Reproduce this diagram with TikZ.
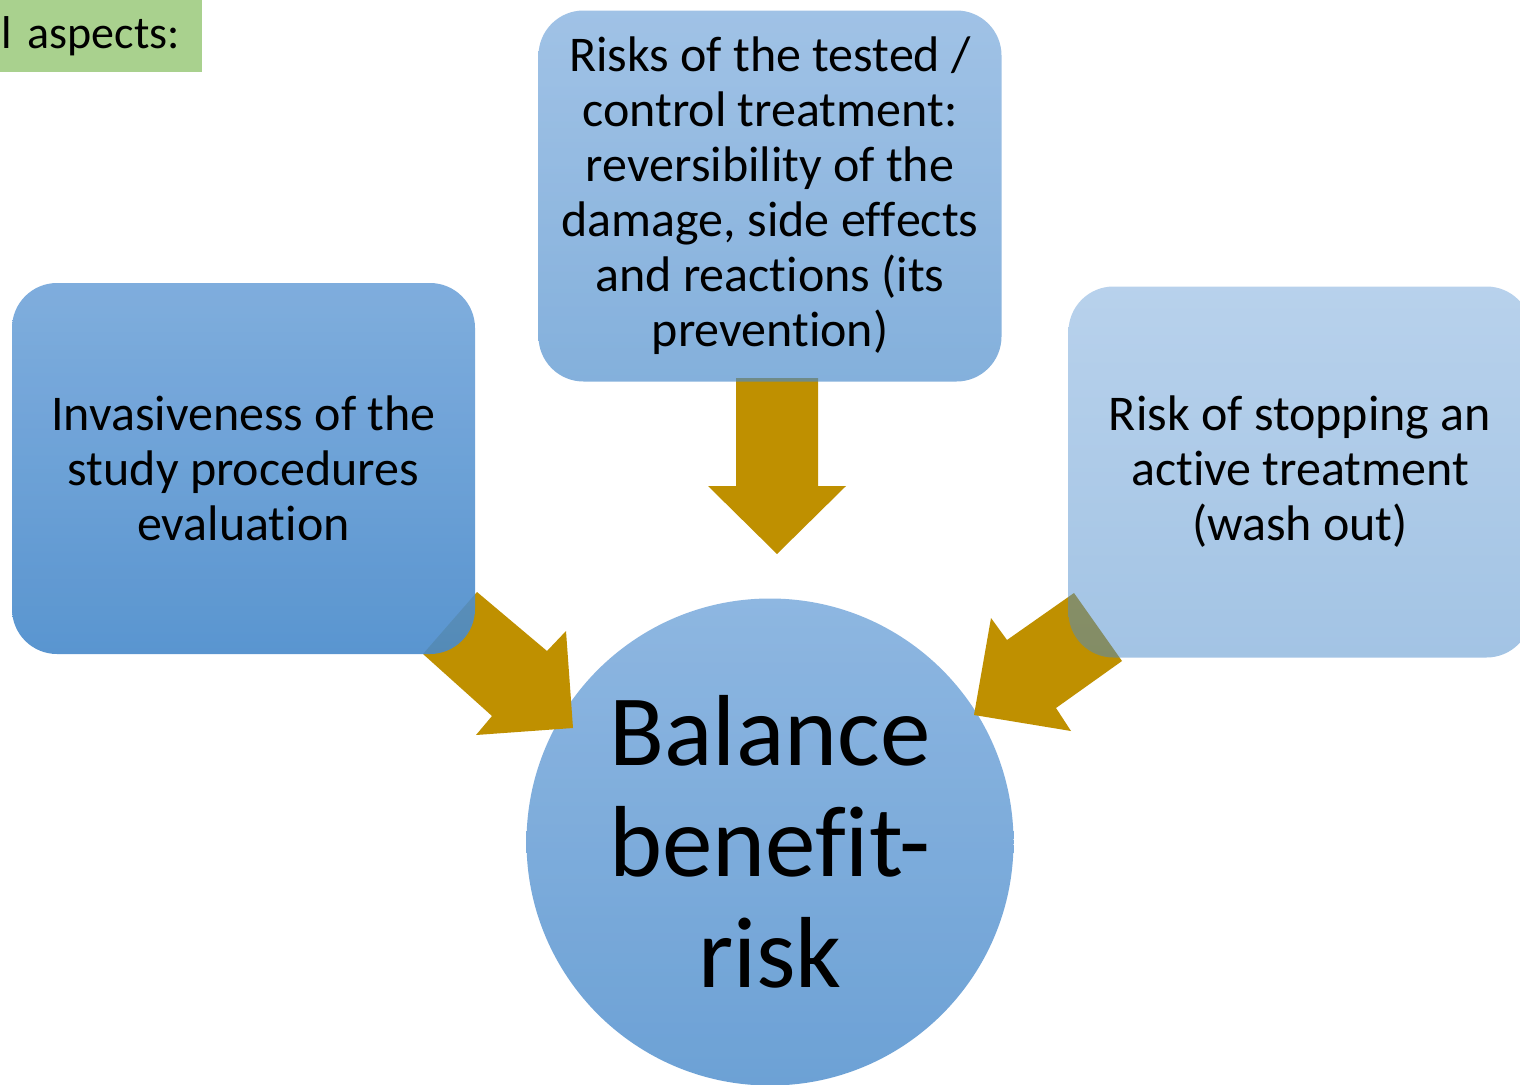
\documentclass[tikz,border=0pt]{standalone}
\usepackage{fontspec}
\setmainfont[Ligatures=CommonOff]{Carlito}
\definecolor{basetop}{RGB}{114,165,218}
\definecolor{basebot}{RGB}{72,138,203}
\definecolor{gold}{RGB}{191,144,0}
\definecolor{lgreen}{RGB}{169,209,142}
\newcommand{\nolig}{\kern0pt}
\tikzset{
  box/.style={rounded corners=45pt, inner sep=0pt, align=center,
    top color=basetop, bottom color=basebot, text opacity=1,
    minimum width=463pt, minimum height=371pt,
    font=\fontsize{50}{55}\selectfont},
  ball/.style={circle, inner sep=0pt, align=center, minimum size=487pt,
    top color=basetop, bottom color=basebot, fill opacity=0.8, text opacity=1,
    font=\fontsize{101}{111}\selectfont},
  blockarrow/.style={fill=gold, draw=none}
}
\begin{document}
\begin{tikzpicture}[x=1pt,y=-1pt]
\useasboundingbox (0,0) rectangle (1520,1084);
\clip (0,0) rectangle (1520,1084);
\fill[white] (0,0) rectangle (1520,1084);
% centre circle
\node[ball] (bal) at (770,842) {Balance\\benef\nolig it-\\risk};
% block arrows (drawn below the boxes)
\fill[blockarrow] (736,378) -- (818,378) -- (818,486) -- (846,486) -- (777,554)
  -- (708,486) -- (736,486) -- cycle;
\fill[blockarrow] (477,592) -- (547,651) -- (566,631) -- (573,728) -- (476,735)
  -- (492,716) -- (423,654) -- cycle;
\fill[blockarrow] (1074,593) -- (1007,640) -- (991,618) -- (974,715) -- (1071,731)
  -- (1056,708) -- (1122,661) -- cycle;
% boxes
\node[box, fill opacity=0.9] (inv) at (243.5,468.5)
  {\raisebox{1pt}{\parbox{440pt}{\centering Invasiveness of the\\study procedures\\evaluation}}};
\node[box, fill opacity=0.67] (risks) at (770,196)
  {Risks of the tested /\\control treatment:\\reversibility of the\\damage, side ef\nolig f\nolig ects\\and reactions (its\\prevention)};
\node[box, fill opacity=0.5] (stop) at (1300,472)
  {Risk of stopping an\\active treatment\\(wash out)};
% green label
\node[anchor=north west, fill=lgreen, minimum height=72pt, text width=199pt,
  inner xsep=1.5pt, inner ysep=0pt, font=\fontsize{46}{50}\selectfont] (lbl) at (0,0)
  {\raisebox{-2pt}{l aspects:}};
\end{tikzpicture}
\end{document}
